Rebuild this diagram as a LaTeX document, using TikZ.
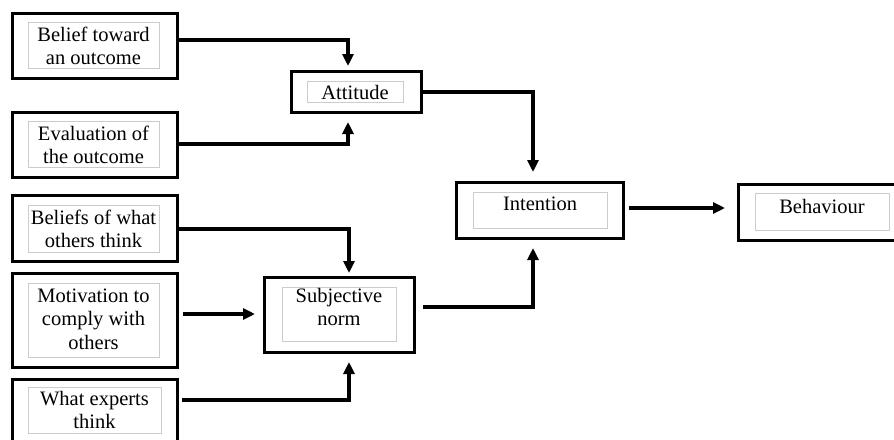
\documentclass[tikz,border=0pt]{standalone}
\usepackage{fontspec}
\setmainfont{Liberation Serif}
\usetikzlibrary{arrows.meta,calc}
\begin{document}
\begin{tikzpicture}[x=1pt,y=-1pt,
 outerbox/.style={draw=black,line width=3pt,inner sep=0pt,outer sep=0pt,fill=white},
 innerbox/.style={draw=black!20,line width=1pt,inner sep=0pt,outer sep=0pt},
 txt/.style={align=center,inner sep=0pt,font=\fontsize{20.5}{23.5}\selectfont,text=black},
 arr/.style={line width=4pt,-{Triangle[length=12pt,width=11pt]}}]
\useasboundingbox (0,0) rectangle (894,439);
% left column
\node[outerbox,minimum width=165pt,minimum height=65pt] (b1) at (94.5,45.5) {};
\node[innerbox,minimum width=131pt,minimum height=46pt] (b1i) at (93.5,45) {};
\node[txt] (b1t) at (93.5,46) {Belief toward\\an outcome};

\node[outerbox,minimum width=165pt,minimum height=65pt] (b2) at (94.5,144.5) {};
\node[innerbox,minimum width=131pt,minimum height=46pt] (b2i) at (93.5,144) {};
\node[txt] (b2t) at (93.5,145) {Evaluation of\\the outcome};

\node[outerbox,minimum width=165pt,minimum height=66pt] (b3) at (94.5,228) {};
\node[innerbox,minimum width=131pt,minimum height=47pt] (b3i) at (93.5,228.5) {};
\node[txt] (b3t) at (93.5,229) {Beliefs of what\\others think};

\node[outerbox,minimum width=165pt,minimum height=94pt] (b4) at (94.5,320) {};
\node[innerbox,minimum width=131pt,minimum height=74pt] (b4i) at (93.5,320) {};
\node[txt] (b4t) at (93.5,319) {Motivation to\\comply with\\others};

\node[outerbox,minimum width=165pt,minimum height=64pt] (b5) at (94.5,411) {};
\node[innerbox,minimum width=133pt,minimum height=46pt] (b5i) at (94.5,410) {};
\node[txt] (b5t) at (94.5,410) {What experts\\think};

% middle column
\node[outerbox,minimum width=130pt,minimum height=41pt] (att) at (356,91.5) {};
\node[innerbox,minimum width=96pt,minimum height=21pt] (atti) at (355,91.5) {};
\node[txt] (attt) at (355,92) {Attitude};

\node[outerbox,minimum width=150pt,minimum height=75pt] (sn) at (339,314.5) {};
\node[innerbox,minimum width=114pt,minimum height=54pt] (sni) at (339,314) {};
\node[txt] (snt) at (339,307) {Subjective\\norm};

% right
\node[outerbox,minimum width=167pt,minimum height=56pt] (int) at (539.5,210) {};
\node[innerbox,minimum width=134pt,minimum height=36pt] (inti) at (540,210) {};
\node[txt] (intt) at (540,203.5) {Intention};

\node[outerbox,minimum width=168pt,minimum height=56pt] (beh) at (822,212) {};
\node[innerbox,minimum width=134pt,minimum height=37pt] (behi) at (822,211.5) {};
\node[txt] (beht) at (822,206.5) {Behaviour};

% arrows
\draw[arr,shorten >=5pt] ([yshift=5.5pt]b1.east) -| ([xshift=-8pt]att.north);
\draw[arr,shorten >=10pt] ([yshift=0.5pt]b2.east) -| ([xshift=-8pt]att.south);
\draw[arr,shorten >=10pt] (att.east) -| ([xshift=-6.5pt]int.north);
\draw[arr,shorten <=9pt,shorten >=10pt] ([yshift=7.5pt]sn.east) -| ([xshift=-6.5pt]int.south);
\draw[arr,shorten >=4pt] ([yshift=-1pt]b3.east) -| ([xshift=10pt]sn.north);
\draw[arr,shorten <=6pt,shorten >=9pt] ([yshift=6pt]b4.east) -- ([yshift=6pt]b4.east -| sn.west);
\draw[arr,shorten <=5pt,shorten >=10pt] ([yshift=11pt]b5.east) -| ([xshift=10pt]sn.south);
\draw[arr,shorten <=6pt,shorten >=13pt] ([yshift=2pt]int.east) -- ([yshift=2pt]int.east -| beh.west);
\end{tikzpicture}
\end{document}
